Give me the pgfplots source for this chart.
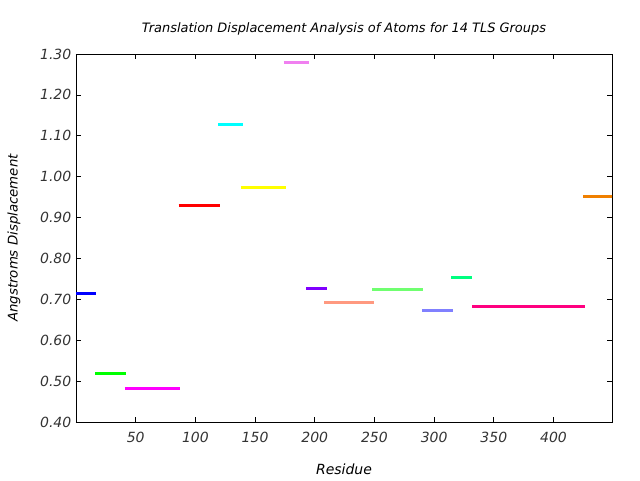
\documentclass[border=0pt]{standalone}
\usepackage{fontspec}
\setmainfont{DejaVu Sans}
\usepackage{pgfplots}
\pgfplotsset{compat=1.18}
\definecolor{c1}{RGB}{0,0,255}
\definecolor{c2}{RGB}{0,255,0}
\definecolor{c3}{RGB}{255,0,255}
\definecolor{c4}{RGB}{255,0,0}
\definecolor{c5}{RGB}{0,255,255}
\definecolor{c6}{RGB}{255,255,0}
\definecolor{c7}{RGB}{240,128,240}
\definecolor{c8}{RGB}{128,0,255}
\definecolor{c9}{RGB}{255,153,128}
\definecolor{c10}{RGB}{112,255,112}
\definecolor{c11}{RGB}{128,128,255}
\definecolor{c12}{RGB}{0,255,128}
\definecolor{c13}{RGB}{255,0,128}
\definecolor{c14}{RGB}{240,128,0}
\begin{document}
\begin{tikzpicture}
\useasboundingbox (-57pt,-43.5pt) rectangle (423pt,316.5pt);
\begin{axis}[
  scale only axis,
  width=402pt, height=276pt,
  xmin=0, xmax=449,
  ymin=0.4, ymax=1.3,
  xtick={50,100,...,400},
  ytick={0.4,0.5,...,1.3},
  tick align=inside,
  major tick length=4pt,
  tick style={black, line width=0.6pt},
  axis line style={line width=0.6pt},
  /pgf/number format/assume math mode=true,
  yticklabel style={/pgf/number format/.cd, fixed, fixed zerofill, precision=2},
  tick label style={font=\fontsize{10.5}{12}\selectfont\itshape, text=black!80},
  xticklabel style={yshift=-4pt},
  title={\fontsize{9.7}{12}\selectfont\itshape Translation Displacement Analysis of Atoms for 14 TLS Groups},
  title style={yshift=4.5pt},
  xlabel={\fontsize{10.5}{12}\selectfont\itshape Residue},
  ylabel={\fontsize{10}{12}\selectfont\itshape Angstroms Displacement},
  xlabel style={yshift=-9pt},
  ylabel style={yshift=8pt},
  every axis plot/.append style={line width=2.3pt, line cap=butt},
]
\addplot[c1]  coordinates {(0,0.715)(17,0.715)};
\addplot[c2]  coordinates {(16,0.519)(42,0.519)};
\addplot[c3]  coordinates {(41,0.482)(87,0.482)};
\addplot[c4]  coordinates {(86,0.930)(121,0.930)};
\addplot[c5]  coordinates {(119,1.128)(140,1.128)};
\addplot[c6]  coordinates {(138,0.974)(176,0.974)};
\addplot[c7]  coordinates {(174,1.280)(195,1.280)};
\addplot[c8]  coordinates {(193,0.727)(210,0.727)};
\addplot[c9]  coordinates {(208,0.693)(250,0.693)};
\addplot[c10] coordinates {(248,0.725)(291,0.725)};
\addplot[c11] coordinates {(290,0.673)(316,0.673)};
\addplot[c12] coordinates {(314,0.754)(332,0.754)};
\addplot[c13] coordinates {(332,0.683)(426,0.683)};
\addplot[c14] coordinates {(425,0.952)(450,0.952)};
\end{axis}
\end{tikzpicture}
\end{document}
